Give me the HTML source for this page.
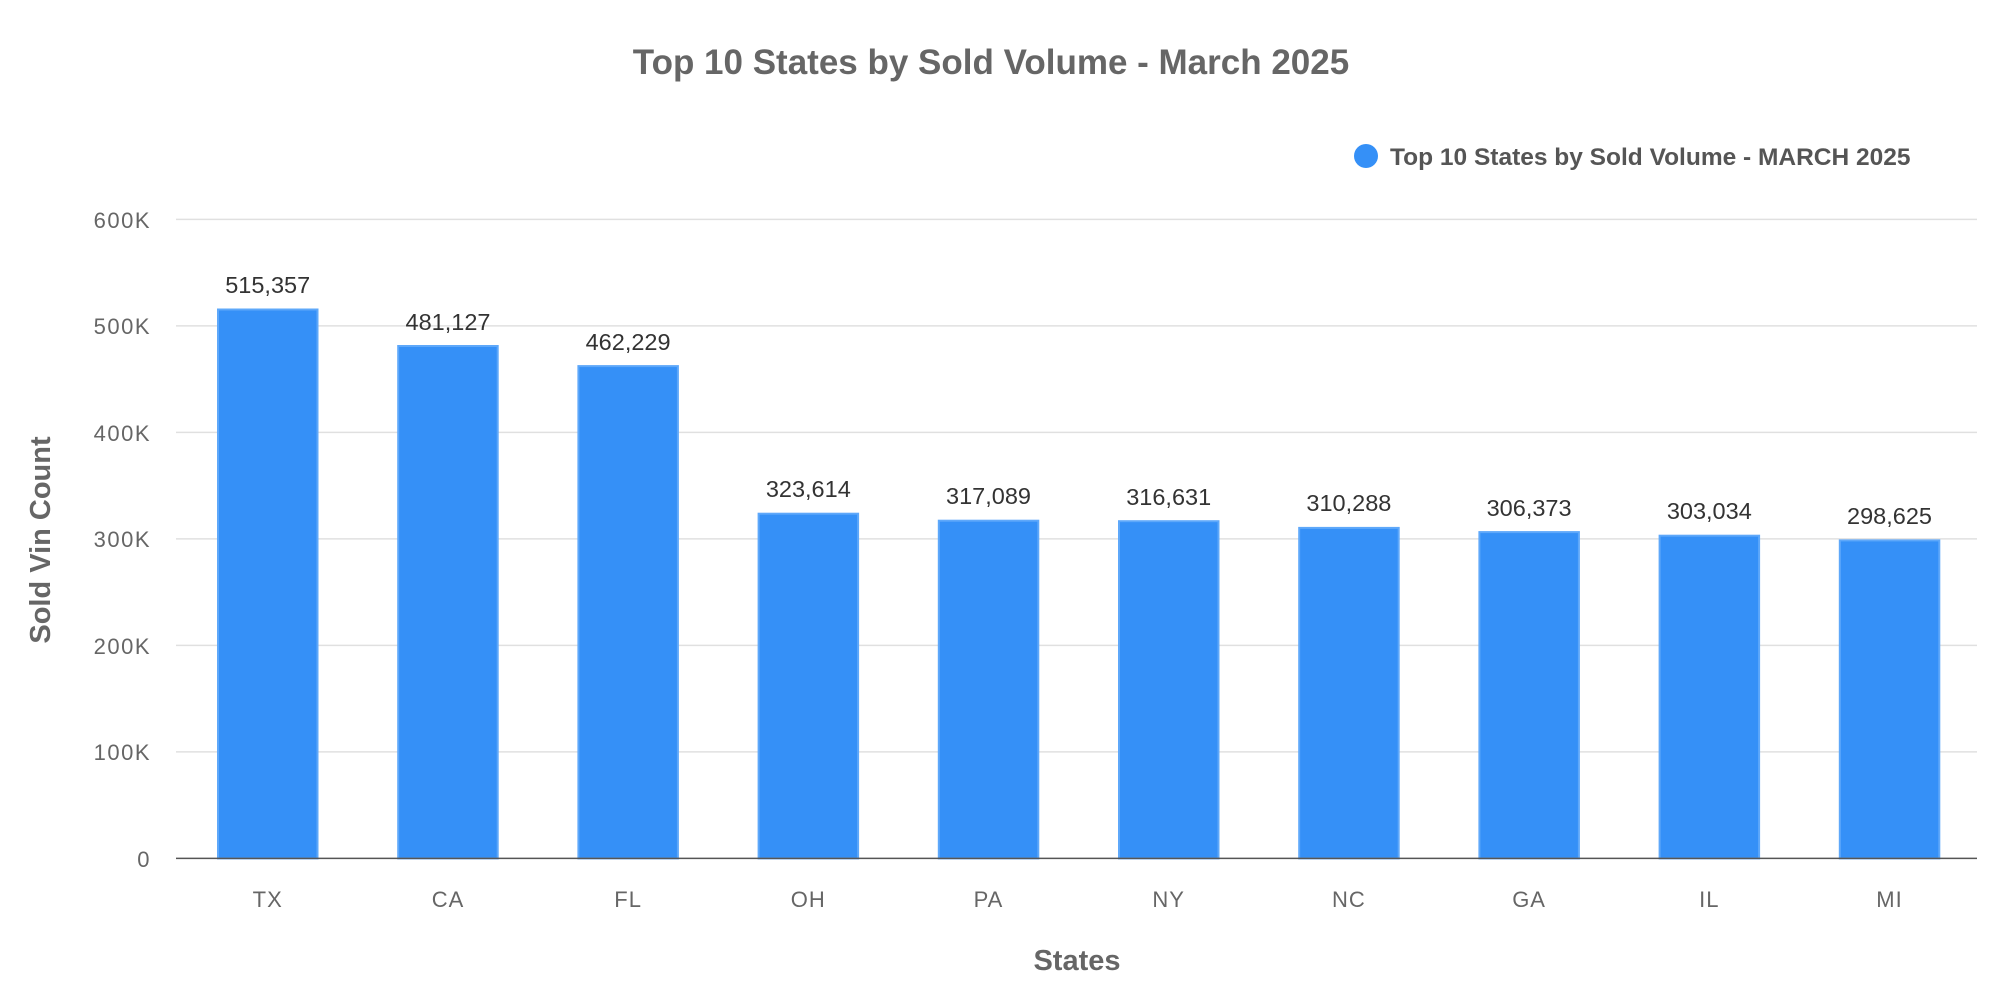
<!DOCTYPE html>
<html><head><meta charset="utf-8"><style>
html,body{margin:0;padding:0;background:#fff;}
svg{display:block;font-family:"Liberation Sans",sans-serif;}
</style></head><body>
<svg width="2000" height="1000" viewBox="0 0 2000 1000">
<text x="991" y="74" text-anchor="middle" font-size="35" font-weight="bold" fill="#666">Top 10 States by Sold Volume - March 2025</text>
<circle cx="1366" cy="156" r="12" fill="#3590F7"/>
<text x="1390" y="165" font-size="24.5" font-weight="bold" fill="#555">Top 10 States by Sold Volume - MARCH 2025</text>
<g stroke="#e0e0e0" stroke-width="1.5">
<line x1="176" x2="1977" y1="219.4" y2="219.4"/>
<line x1="176" x2="1977" y1="325.9" y2="325.9"/>
<line x1="176" x2="1977" y1="432.4" y2="432.4"/>
<line x1="176" x2="1977" y1="538.9" y2="538.9"/>
<line x1="176" x2="1977" y1="645.4" y2="645.4"/>
<line x1="176" x2="1977" y1="751.9" y2="751.9"/>
</g>
<g font-size="22" fill="#666" text-anchor="end" letter-spacing="1.5">
<text x="151" y="228">600K</text>
<text x="151" y="334">500K</text>
<text x="151" y="441">400K</text>
<text x="151" y="547">300K</text>
<text x="151" y="654">200K</text>
<text x="151" y="760">100K</text>
<text x="151" y="867">0</text>
</g>
<g fill="#3590F7" stroke="#5ea8fa" stroke-width="2">
<rect x="218" y="309.5" width="99.5" height="548.9"/>
<rect x="398.2" y="346" width="99.5" height="512.4"/>
<rect x="578.4" y="366.1" width="99.5" height="492.3"/>
<rect x="758.6" y="513.7" width="99.5" height="344.7"/>
<rect x="938.8" y="520.7" width="99.5" height="337.7"/>
<rect x="1119" y="521.2" width="99.5" height="337.2"/>
<rect x="1299.2" y="527.9" width="99.5" height="330.5"/>
<rect x="1479.4" y="532.1" width="99.5" height="326.3"/>
<rect x="1659.6" y="535.7" width="99.5" height="322.7"/>
<rect x="1839.8" y="540.4" width="99.5" height="318"/>
</g>
<line x1="176" x2="1977" y1="858.4" y2="858.4" stroke="#555" stroke-width="1.5"/>
<g font-size="23.5" fill="#333" text-anchor="middle">
<text x="267.7" y="293">515,357</text>
<text x="448" y="330">481,127</text>
<text x="628.1" y="350">462,229</text>
<text x="808.3" y="497">323,614</text>
<text x="988.5" y="504">317,089</text>
<text x="1168.7" y="505">316,631</text>
<text x="1348.9" y="511">310,288</text>
<text x="1529.1" y="516">306,373</text>
<text x="1709.3" y="519">303,034</text>
<text x="1889.5" y="524">298,625</text>
</g>
<g font-size="22" fill="#666" text-anchor="middle" letter-spacing="1">
<text x="267.7" y="907">TX</text>
<text x="448" y="907">CA</text>
<text x="628.1" y="907">FL</text>
<text x="808.3" y="907">OH</text>
<text x="988.5" y="907">PA</text>
<text x="1168.7" y="907">NY</text>
<text x="1348.9" y="907">NC</text>
<text x="1529.1" y="907">GA</text>
<text x="1709.3" y="907">IL</text>
<text x="1889.5" y="907">MI</text>
</g>
<text x="1077" y="970" text-anchor="middle" font-size="29" font-weight="bold" fill="#666">States</text>
<text transform="translate(50,540) rotate(-90)" text-anchor="middle" font-size="29" font-weight="bold" fill="#666">Sold Vin Count</text>
</svg>
</body></html>
